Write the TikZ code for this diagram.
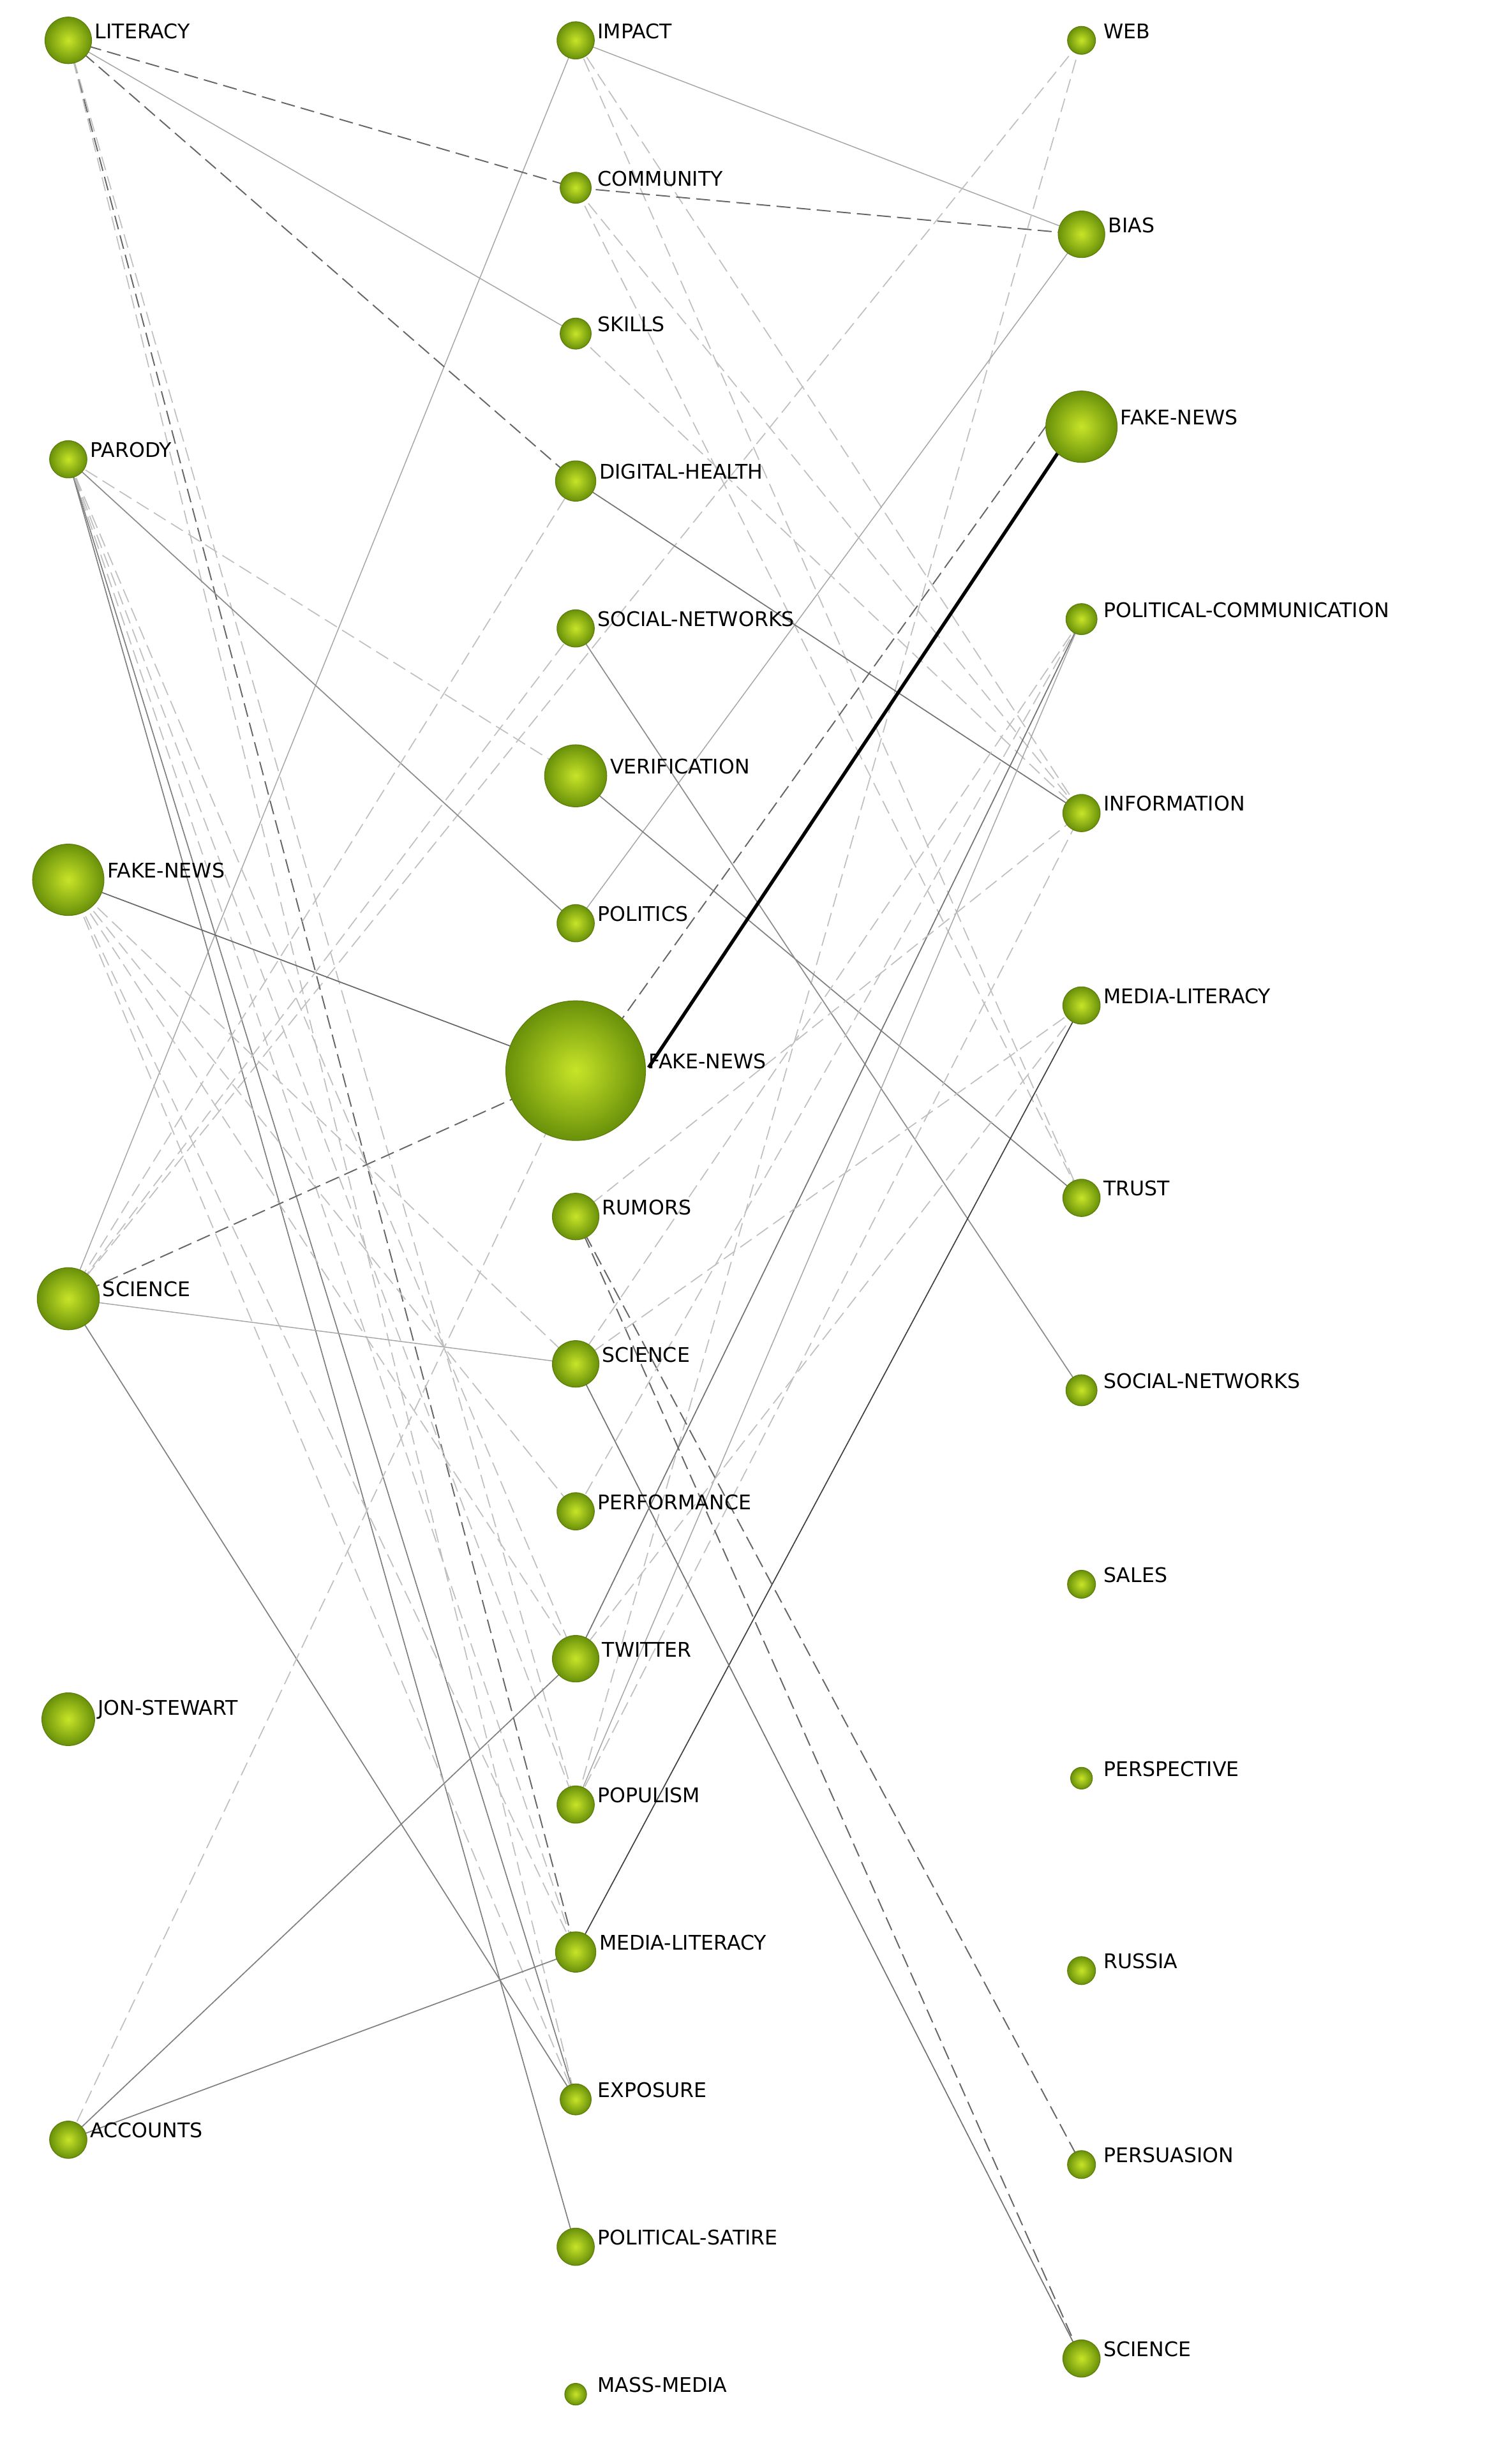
\documentclass[tikz,border=0pt]{standalone}
\usepackage{fontspec}
\setmainfont{DejaVu Sans}
\begin{document}
\begin{tikzpicture}[x=1pt,y=-1pt,
  kw/.style={circle,inner sep=0pt,inner color={rgb,255:red,200;green,228;blue,40},outer color={rgb,255:red,105;green,145;blue,10},draw={rgb,255:red,95;green,125;blue,10},line width=0.5pt},
  lab/.style={anchor=west,font=\fontsize{13}{13}\selectfont,inner sep=0pt},
  sd/.style={draw=black!75,line width=0.7pt},
  sl/.style={draw=black!35,line width=0.6pt},
  dd/.style={draw=black!60,dash pattern=on 9pt off 4pt,line width=0.8pt},
  dl/.style={draw=black!25,dash pattern=on 9pt off 4pt,line width=0.7pt}]
\useasboundingbox (0,0) rectangle (967,1588);
\fill[white] (0,0) rectangle (967,1588);
\def\nodelist{
 lLIT/44/26/15/LITERACY, lPAR/44/296/12/PARODY, lFN/44/567/23/FAKE-NEWS, lSCI/44/837/20/SCIENCE, lJON/44/1108/17/JON-STEWART, lACC/44/1379/12/ACCOUNTS,
 mIMP/371/26/12/IMPACT, mCOM/371/121/10/COMMUNITY, mSKI/371/215/10/SKILLS, mDH/371/310/13/DIGITAL-HEALTH, mSN/371/405/12/SOCIAL-NETWORKS, mVER/371/500/20/VERIFICATION, mPOL/371/595/12/POLITICS, mFN/371/690/45/FAKE-NEWS, mRUM/371/784/15/RUMORS, mSCI/371/879/15/SCIENCE, mPER/371/974/12/PERFORMANCE, mTW/371/1069/15/TWITTER, mPOP/371/1163/12/POPULISM, mML/371/1258/13/MEDIA-LITERACY, mEXP/371/1353/10/EXPOSURE, mPS/371/1448/12/POLITICAL-SATIRE, mMM/371/1543/7/MASS-MEDIA,
 rWEB/697/26/9/WEB, rBIAS/697/151/15/BIAS, rFN/697/275/23/FAKE-NEWS, rPC/697/399/10/POLITICAL-COMMUNICATION, rINF/697/524/12/INFORMATION, rML/697/648/12/MEDIA-LITERACY, rTR/697/772/12/TRUST, rSN/697/896/10/SOCIAL-NETWORKS, rSAL/697/1021/9/SALES, rPRS/697/1146/7/PERSPECTIVE, rRU/697/1270/9/RUSSIA, rPSU/697/1395/9/PERSUASION, rSCI/697/1520/12/SCIENCE}
\foreach \n/\x/\y/\r/\t in \nodelist { \coordinate (\n) at (\x,\y); }
\coordinate (mFNne) at (397,662);
\coordinate (mFNe) at (418,688);
\coordinate (rFNw) at (676,272);
\coordinate (rFNsw) at (683,290);
\draw[dl] (mIMP)--(rTR); \draw[dl] (mIMP)--(rINF); \draw[sl] (mIMP)--(rBIAS); \draw[sl] (mIMP)--(lSCI);
\draw[dl] (rWEB)--(lSCI); \draw[dl] (rWEB)--(mPOP);
\draw[sl] (rBIAS)--(mPOL);
\draw[dl] (mCOM)--(rINF); \draw[dl] (mCOM)--(rTR); \draw[dl] (mSKI)--(rINF);
\draw[dd] (lLIT)--(mCOM); \draw[dd] (mCOM)--(rBIAS);
\draw[sl] (lLIT)--(mSKI); \draw[dd] (lLIT)--(mDH); \draw[dd] (lLIT)--(mML);
\draw[dl] (lLIT)--(mPOP); \draw[dl] (lLIT)--(mEXP);
\draw[sd,draw=black!55] (mDH)--(rINF);
\draw[dl] (lPAR)--(mVER); \draw[sd,draw=black!45] (lPAR)--(mPOL); \draw[sd,draw=black!50] (lPAR)--(mPS);
\draw[sd,draw=black!50] (lPAR)--(mEXP); \draw[dl] (lPAR)--(mML); \draw[dl] (lPAR)--(mTW); \draw[dl] (lPAR)--(mPOP);
\draw[sd,draw=black!50] (mVER)--(rTR); \draw[sd,draw=black!45] (mSN)--(rSN);
\draw[sd,draw=black!60,-latex] (lFN)--(mFN);
\draw[dl] (lFN)--(mPER); \draw[dl] (lFN)--(mTW); \draw[dl] (lFN)--(mML); \draw[dl] (lFN)--(mSCI); \draw[dl] (lFN)--(mEXP);
\draw[dd] (lSCI)--(mFN); \draw[sl] (lSCI)--(mSCI); \draw[sd,draw=black!50] (lSCI)--(mEXP);
\draw[dl] (lSCI)--(mSN); \draw[dl] (lSCI)--(mDH);
\draw[sd,draw=black!50] (lACC)--(mTW); \draw[sd,draw=black!50] (lACC)--(mML); \draw[dl] (lACC)--(mFN);
\draw[sd,draw=black!55] (mTW)--(rPC); \draw[sl] (mPOP)--(rPC); \draw[dl] (mPOP)--(rINF);
\draw[sd] (mML)--(rML);
\draw[dl] (mRUM)--(rINF); \draw[dd] (mRUM)--(rPSU); \draw[dd] (mRUM)--(rSCI);
\draw[sd,draw=black!55] (mSCI)--(rSCI); \draw[dl] (mSCI)--(rML); \draw[dl] (mPER)--(rPC); \draw[dl] (mSCI)--(rPC);
\draw[dl] (mTW)--(rML);
\draw[dd] (mFNne)--(rFNw);
\draw[line width=2.2pt,black] (mFNe)--(rFNsw);
\foreach \n/\x/\y/\r/\t in \nodelist
{
  \node[kw,minimum size=2*\r pt] (n\n) at (\x,\y) {};
  \pgfmathsetmacro{\lx}{\x+max(\r,12)+2}
  \node[lab] (t\n) at (\lx,\y-6) {\t};
}
\end{tikzpicture}
\end{document}
